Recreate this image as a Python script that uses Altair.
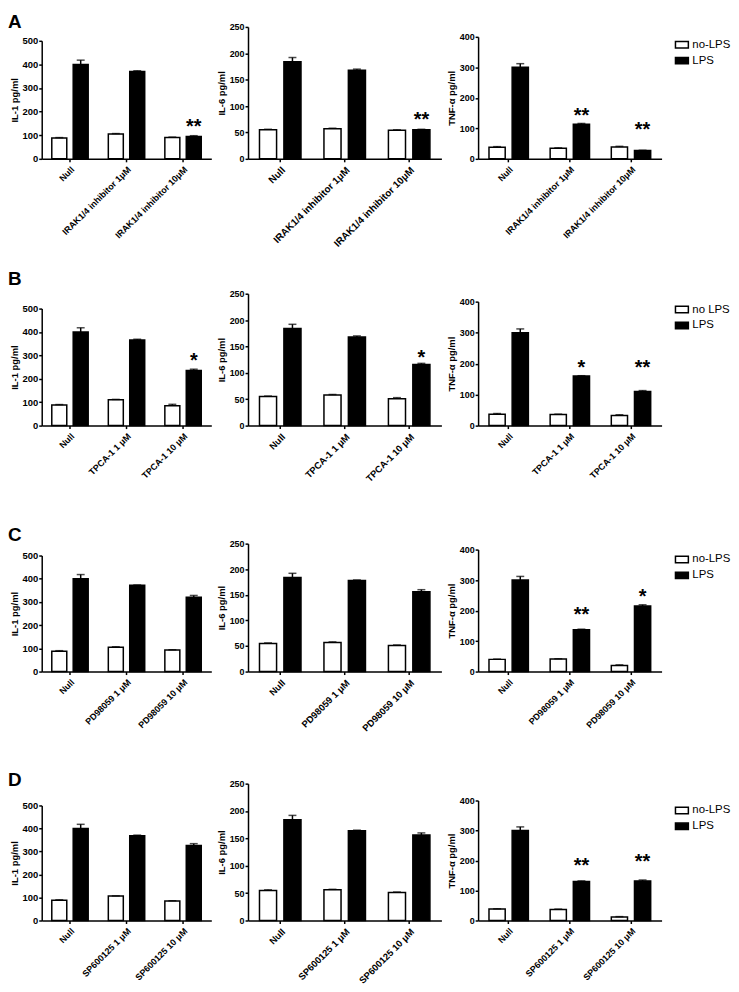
import altair as alt
import pandas as pd

# ---------------- data ----------------
row_letters = ["A", "B", "C", "D"]
groups_A = ["Null", "IRAK1/4 inhibitor 1μM", "IRAK1/4 inhibitor 10μM"]
groups_B = ["Null", "TPCA-1 1 μM", "TPCA-1 10 μM"]
groups_C = ["Null", "PD98059 1 μM", "PD98059 10 μM"]
groups_D = ["Null", "SP600125 1 μM", "SP600125 10 μM"]
series_A = ["no-LPS", "LPS"]
series_B = ["no LPS", "LPS"]
series_C = ["no-LPS", "LPS"]
series_D = ["no-LPS", "LPS"]

y_titles = ["IL-1 pg/ml", "IL-6 pg/ml", "TNF-α pg/ml"]
y_ticks_IL1 = [0, 100, 200, 300, 400, 500]
y_ticks_IL6 = [0, 50, 100, 150, 200, 250]
y_ticks_TNF = [0, 100, 200, 300, 400]

# values: no-LPS, its error, LPS, its error (per group)
A_IL1 = ([88, 105, 90], [2, 2, 2], [400, 370, 95], [18, 3, 3])
A_IL6 = ([55, 57, 54], [1, 1, 1], [184, 168, 55], [8, 2, 1])
A_TNF = ([38, 35, 39], [2, 1, 2], [300, 113, 27], [12, 3, 1])
B_IL1 = ([88, 110, 85], [2, 2, 6], [400, 366, 236], [18, 3, 5])
B_IL6 = ([55, 58, 51], [1, 1, 2], [184, 168, 116], [8, 2, 2])
B_TNF = ([37, 36, 33], [2, 1, 2], [300, 160, 110], [12, 1, 3])
C_IL1 = ([88, 105, 93], [2, 2, 1], [400, 372, 320], [18, 1, 8])
C_IL6 = ([55, 57, 51], [1, 1, 1], [184, 178, 156], [8, 1, 4])
C_TNF = ([40, 41, 20], [1, 1, 2], [300, 137, 215], [12, 2, 4])
D_IL1 = ([88, 106, 85], [2, 1, 1], [400, 368, 326], [18, 3, 8])
D_IL6 = ([55, 56, 51], [1, 1, 1], [184, 164, 156], [8, 1, 4])
D_TNF = ([38, 37, 12], [1, 1, 1], [300, 130, 132], [12, 2, 3])

# significance marks: (group index, text, y value)
A_IL1_stars = [(2, "**", 155)]
A_IL6_stars = [(2, "**", 83)]
A_TNF_stars = [(1, "**", 156), (2, "**", 110)]
B_IL1_stars = [(2, "*", 297)]
B_IL6_stars = [(2, "*", 137)]
B_TNF_stars = [(1, "*", 202), (2, "**", 202)]
C_IL1_stars = []
C_IL6_stars = []
C_TNF_stars = [(1, "**", 202), (2, "*", 260)]
D_IL1_stars = []
D_IL6_stars = []
D_TNF_stars = [(1, "**", 198), (2, "**", 212)]

# ---------------- layout (pixels) ----------------
FONT = "Liberation Sans"
panel_widths = [171, 195, 185]
row_heights = [133, 155, 156, 160]
axis_lengths = [[119, 133, 123], [118, 133, 125], [117, 129, 123], [116, 138, 121]]
xlabel_sizes = [[9, 10, 9], [9, 9.5, 9], [9, 9.5, 9], [9, 9.5, 9]]
legend_ys = [10.5, 30.5, 35.5, 41.5]
letter_ys = [-14.4, -1.4, 9.6, 9.6]


def panel(cats, names, vals, stars, ymax, yticks, ytitle, width, H, L, lab_fs, tick_fs,
          legend_y=None, letter=None, letter_y=0):
    nol, nol_e, lps, lps_e = vals
    recs = []
    for i, c in enumerate(cats):
        recs.append(dict(group=c, series=names[0], value=nol[i], top=nol[i] + nol_e[i]))
        recs.append(dict(group=c, series=names[1], value=lps[i], top=lps[i] + lps_e[i]))
    df = pd.DataFrame(recs)
    sdf = pd.DataFrame([dict(group=cats[g], series=names[1], sy=v, txt=t) for g, t, v in stars],
                       columns=["group", "series", "sy", "txt"])

    x = alt.X("group:N", sort=cats,
              scale=alt.Scale(domain=cats, paddingInner=0, paddingOuter=0),
              axis=alt.Axis(title=None, labelAngle=-45, labelAlign="right", labelBaseline="top",
                            labelFontSize=lab_fs, labelOverlap=False, labelPadding=3))
    xo = alt.XOffset("series:N", scale=alt.Scale(domain=names, paddingInner=0.3, paddingOuter=0.47))
    yscale = alt.Scale(domain=[0, ymax], range=[H, H - L], nice=False, zero=True)
    y = alt.Y("value:Q", scale=yscale,
              axis=alt.Axis(title=ytitle, values=yticks, tickCount=20, labelFontSize=tick_fs,
                            format="d", labelOverlap=False))
    if legend_y is None:
        leg = None
    else:
        leg = alt.Legend(title=None, orient="none", legendX=width + 13, legendY=legend_y,
                         symbolType="M-1,-0.5L1,-0.5L1,0.5L-1,0.5Z", symbolSize=169,
                         symbolStrokeColor="black", symbolStrokeWidth=1.5,
                         labelFont=FONT, labelFontSize=11.5, labelColor="black",
                         labelOffset=3, rowPadding=2, padding=0)
    fill = alt.Fill("series:N", scale=alt.Scale(domain=names, range=["white", "black"]), legend=leg)

    base = alt.Chart(df)
    bars = base.mark_bar(stroke="black", strokeWidth=1.5).encode(x=x, xOffset=xo, y=y, fill=fill)
    err = base.mark_rule(color="black", strokeWidth=1.5).encode(
        x=x, xOffset=xo, y=alt.Y("value:Q"), y2="top:Q")
    cap = base.mark_tick(color="black", size=8, thickness=1.5).encode(
        x=x, xOffset=xo, y=alt.Y("top:Q"))
    layers = [bars, err, cap]
    if len(sdf):
        txt = alt.Chart(sdf).mark_text(font=FONT, fontWeight="bold", fontSize=20, color="black",
                                       baseline="alphabetic", dy=11).encode(
            x=x, xOffset=xo, y=alt.Y("sy:Q"), text="txt:N")
        layers.append(txt)
    if letter is not None:
        lab = alt.Chart(pd.DataFrame({"letter": [letter]})).mark_text(
            font=FONT, fontWeight="bold", fontSize=19, color="black", align="left", baseline="top"
        ).encode(text="letter:N", x=alt.value(-34), y=alt.value(letter_y))
        layers.append(lab)
    return alt.layer(*layers).properties(width=width, height=H)


row_groups = [groups_A, groups_B, groups_C, groups_D]
row_series = [series_A, series_B, series_C, series_D]
row_vals = [[A_IL1, A_IL6, A_TNF], [B_IL1, B_IL6, B_TNF], [C_IL1, C_IL6, C_TNF], [D_IL1, D_IL6, D_TNF]]
row_stars = [[A_IL1_stars, A_IL6_stars, A_TNF_stars], [B_IL1_stars, B_IL6_stars, B_TNF_stars],
             [C_IL1_stars, C_IL6_stars, C_TNF_stars], [D_IL1_stars, D_IL6_stars, D_TNF_stars]]
ymaxes = [500, 250, 400]
yticks_all = [y_ticks_IL1, y_ticks_IL6, y_ticks_TNF]
tick_fs = [9.5, 9, 9]

rows = []
for r in range(4):
    panels = []
    for m in range(3):
        panels.append(panel(row_groups[r], row_series[r], row_vals[r][m], row_stars[r][m],
                            ymaxes[m], yticks_all[m], y_titles[m], panel_widths[m],
                            row_heights[r], axis_lengths[r][m], xlabel_sizes[r][m], tick_fs[m],
                            legend_ys[r] if m == 2 else None,
                            row_letters[r] if m == 0 else None, letter_ys[r]))
    row = alt.hconcat(*panels, spacing=37, bounds="flush").resolve_scale(
        fill="independent", x="independent", y="independent", xOffset="independent"
    ).resolve_legend(fill="independent")
    rows.append(row)

chart = alt.vconcat(*rows, spacing=247, bounds="flush").resolve_scale(
    fill="independent", x="independent", y="independent", xOffset="independent"
).resolve_legend(fill="independent").properties(padding=0).configure_view(
    strokeWidth=0
).configure_axis(
    grid=False, domainColor="black", domainWidth=1.5, tickColor="black", tickWidth=1.5,
    tickSize=3, labelFont=FONT, labelFontWeight="bold", labelColor="black",
    titleFont=FONT, titleFontWeight="bold", titleColor="black", titleFontSize=9.5,
    titlePadding=3, labelPadding=1
)

chart.save("out.html", embed_options={"renderer": "svg", "actions": False})
